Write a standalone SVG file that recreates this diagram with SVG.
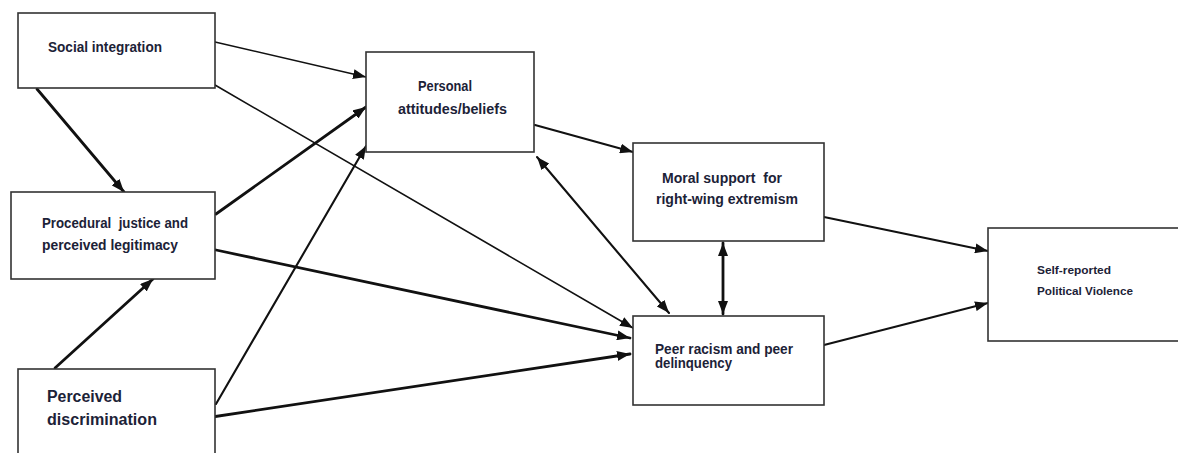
<svg xmlns="http://www.w3.org/2000/svg" width="1178" height="453" viewBox="0 0 1178 453">
  <defs>
    <marker id="arrow" viewBox="0 0 13 10" refX="13" refY="5" markerWidth="13" markerHeight="10" markerUnits="userSpaceOnUse" orient="auto-start-reverse">
      <path d="M0,0 L13,5 L0,10 z" fill="#111"/>
    </marker>
    <style>
      .box { fill: #fff; stroke: #333; stroke-width: 1.6; }
      .lbl { font-family: "Liberation Sans", Arial, sans-serif; font-weight: bold; fill: #1c2237; white-space: pre; }
      .edge { fill: none; stroke: #111; stroke-linecap: round; }
      .thin { stroke-width: 1.6; }
      .mid { stroke-width: 2.1; }
      .thick { stroke-width: 2.8; }
    </style>
  </defs>
  <rect width="1178" height="453" fill="#fff"/>

  <!-- connectors -->
  <g id="connectors">
    <line class="edge thin" x1="215" y1="42" x2="366" y2="77" marker-end="url(#arrow)"/>
    <line class="edge thin" x1="215" y1="85" x2="633" y2="328" marker-end="url(#arrow)"/>
    <line class="edge thick" x1="37" y1="89" x2="124" y2="192" marker-end="url(#arrow)"/>
    <line class="edge thick" x1="216" y1="214" x2="366" y2="107" marker-end="url(#arrow)"/>
    <line class="edge thick" x1="216" y1="250" x2="630" y2="338" marker-end="url(#arrow)"/>
    <line class="edge thick" x1="55" y1="368" x2="153" y2="279" marker-end="url(#arrow)"/>
    <line class="edge mid" x1="216" y1="404" x2="366" y2="146" marker-end="url(#arrow)"/>
    <line class="edge thick" x1="212" y1="417" x2="630" y2="354" marker-end="url(#arrow)"/>
    <line class="edge mid" x1="535" y1="125" x2="633" y2="152" marker-end="url(#arrow)"/>
    <line class="edge mid" x1="537" y1="157" x2="669" y2="313" marker-start="url(#arrow)" marker-end="url(#arrow)"/>
    <line class="edge thick" x1="723" y1="243" x2="723" y2="314" marker-start="url(#arrow)" marker-end="url(#arrow)"/>
    <line class="edge mid" x1="824" y1="217" x2="988" y2="251" marker-end="url(#arrow)"/>
    <line class="edge mid" x1="824" y1="345" x2="988" y2="303" marker-end="url(#arrow)"/>
  </g>

  <!-- nodes -->
  <g id="social-integration">
    <rect class="box" x="18" y="13" width="197" height="75"/>
    <text class="lbl" x="48" y="52" font-size="14" textLength="114" lengthAdjust="spacingAndGlyphs">Social integration</text>
  </g>
  <g id="procedural-justice">
    <rect class="box" x="11" y="192" width="204" height="87"/>
    <text class="lbl" x="42" y="228" font-size="14" textLength="146" lengthAdjust="spacingAndGlyphs">Procedural  justice and</text>
    <text class="lbl" x="42" y="250" font-size="14" textLength="136" lengthAdjust="spacingAndGlyphs">perceived legitimacy</text>
  </g>
  <g id="perceived-discrimination">
    <rect class="box" x="18" y="369" width="197" height="100"/>
    <text class="lbl" x="47" y="402" font-size="16" textLength="75" lengthAdjust="spacingAndGlyphs">Perceived</text>
    <text class="lbl" x="47" y="425" font-size="16" textLength="110" lengthAdjust="spacingAndGlyphs">discrimination</text>
  </g>
  <g id="personal-attitudes">
    <rect class="box" x="366" y="52" width="168" height="100"/>
    <text class="lbl" x="418" y="91" font-size="14" textLength="54" lengthAdjust="spacingAndGlyphs">Personal</text>
    <text class="lbl" x="398" y="114" font-size="14" textLength="109" lengthAdjust="spacingAndGlyphs">attitudes/beliefs</text>
  </g>
  <g id="moral-support">
    <rect class="box" x="633" y="143" width="191" height="98"/>
    <text class="lbl" x="662" y="183" font-size="14" textLength="120" lengthAdjust="spacingAndGlyphs">Moral support  for</text>
    <text class="lbl" x="656" y="204" font-size="14" textLength="142" lengthAdjust="spacingAndGlyphs">right-wing extremism</text>
  </g>
  <g id="peer-racism">
    <rect class="box" x="633" y="316" width="191" height="89"/>
    <text class="lbl" x="655" y="354" font-size="14" textLength="138" lengthAdjust="spacingAndGlyphs">Peer racism and peer</text>
    <text class="lbl" x="655" y="368" font-size="14" textLength="77" lengthAdjust="spacingAndGlyphs">delinquency</text>
  </g>
  <g id="political-violence">
    <rect class="box" x="988" y="228" width="200" height="113"/>
    <text class="lbl" x="1037" y="274" font-size="11" textLength="74" lengthAdjust="spacingAndGlyphs">Self-reported</text>
    <text class="lbl" x="1037" y="295" font-size="11" textLength="96" lengthAdjust="spacingAndGlyphs">Political Violence</text>
  </g>
</svg>
